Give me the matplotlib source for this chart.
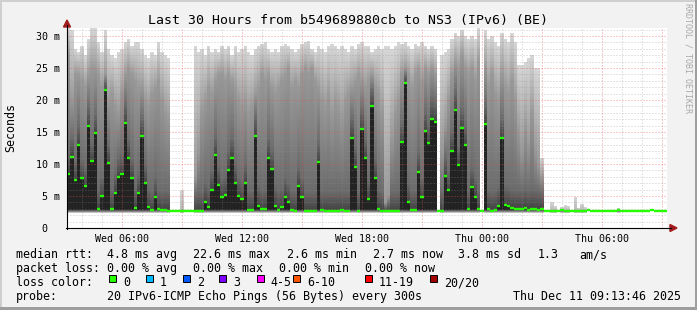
import numpy as np
import matplotlib
matplotlib.use("Agg")
import matplotlib.pyplot as plt
from matplotlib.colors import LinearSegmentedColormap
from matplotlib.patches import Rectangle, Polygon
from matplotlib.lines import Line2D

# ---------------- data ----------------
title = "Last 30 Hours from b549689880cb to NS3 (IPv6) (BE)"
t0_hours = 3.27          # hours after Wed 00:00 at left edge
span_hours = 30.0
step_hours = 1.0 / 6.0   # 10-minute columns

median_ms = [
    8.5, 11.1, 7.5, 13.0, 7.8, 6.5, 16.0, 10.4, 14.8, 3.0,
    5.0, 21.5, 10.1, 3.0, 5.5, 8.0, 8.5, 16.4, 10.9, 7.8,
    3.2, 5.4, 14.3, 7.0, 3.3, 2.8, 4.9, 3.0, 2.8, 2.8,
    2.7,
    2.6, 2.6, 2.6, 2.6, 2.6, 2.6, 2.7, 2.7, 2.7, 2.7, 4.1, 3.3, 6.0, 11.4,
    6.7, 4.9, 5.1, 9.1, 11.0, 7.0, 5.0, 4.5, 7.0, 2.8,
    2.8, 14.4, 3.5, 3.0, 3.0, 11.0, 9.2, 3.5, 2.8, 3.3,
    4.9, 4.1, 2.8, 2.7, 6.5, 4.9, 2.7, 2.7, 2.7, 2.7,
    10.3, 2.8, 2.7, 2.7, 2.7, 2.7, 2.7, 2.8, 2.7, 2.7,
    14.0, 9.6, 2.7, 15.4, 10.9,
    4.5, 19.1, 7.8, 3.0, 2.7, 2.6, 2.6, 2.6, 2.6, 2.7,
    13.4, 22.6, 4.0, 2.8, 2.8, 8.8, 4.9, 15.2, 13.3, 17.1,
    16.6, 2.7, 2.7, 8.2, 5.9, 12.0, 18.4, 9.8, 15.7, 13.0,
    2.9, 6.4, 4.9, 3.0, 2.7, 16.2, 2.9, 2.7, 2.8, 3.4,
    14.1, 3.6, 3.5, 3.1, 3.0,
    3.0, 2.9, 3.2, 2.8, 3.0, 2.9, 2.8, 3.0,
    2.7, 2.7, 2.6, 2.7, 2.7, 2.8, 2.7, 2.7, 2.6, 2.7,
    2.7, 2.7, 2.7, 2.8, 2.7, 2.7, 2.6, 2.7, 2.7, 2.7,
    2.7, 2.7, 2.8, 2.7, 2.7, 2.7, 2.6, 2.7, 2.7, 2.7,
    2.7, 2.7, 2.8, 2.7, 2.7, 2.7, 2.7,
]

upper_ms = [
    27, 20, 24, 24, 23, 22, 24, 25, 25, 24,
    22, 24, 20, 21, 19, 18, 21, 24, 25, 24,
    23, 22, 22, 20, 19, 21, 22, 23, 20, 18,
    17,
    2.6, 2.6, 2.6, 2.6, 2.6, 2.6, 2.7, 8, 12, 18, 20, 22, 21, 23,
    24, 24, 23, 24, 23, 22, 20, 19, 20, 18,
    19, 21, 22, 24, 23, 24, 22, 21, 22, 23,
    24, 25, 22, 23, 22, 24, 25, 24, 25, 23,
    22, 20, 19, 21, 18, 20, 19, 17, 20, 21,
    22, 23, 24, 23, 22,
    23, 24, 22, 21, 18, 4, 5, 14, 18, 20,
    24, 25, 24, 22, 24, 25, 23, 25, 24, 25,
    24, 2.7, 12, 16, 20, 24, 26, 25, 27, 25,
    24, 25, 23, 26, 2.7, 25, 22, 24, 21, 20,
    24, 22, 21, 23, 20,
    15, 12, 16, 13, 18, 12, 10, 8,
    2.7, 2.7, 2.7, 2.7, 2.7, 2.7, 2.7, 2.7, 2.7, 2.7,
    2.7, 2.7, 2.7, 2.7, 2.7, 2.7, 2.7, 2.7, 2.7, 2.7,
    2.7, 2.7, 2.7, 2.7, 2.7, 2.7, 2.7, 2.7, 2.7, 2.7,
    2.7, 2.7, 2.7, 2.7, 2.7, 2.7, 2.7,
]

max_ms = [
    31.2, 31.0, 28.0, 27.5, 28.5, 27.0, 29.5, 31.2, 31.2, 29.0,
    27.5, 31.0, 28.0, 27.0, 26.5, 27.5, 28.0, 29.0, 29.5, 28.5,
    29.0, 29.0, 28.0, 27.0, 26.5, 27.5, 27.0, 29.0, 27.5, 27.0,
    26.5,
    2.8, 2.8, 2.8, 6.0, 2.8, 2.8, 2.8, 28.5, 27.5, 28.0, 27.0, 28.5, 27.5, 28.0,
    27.5, 28.5, 28.0, 28.5, 27.0, 28.5, 27.5, 28.0, 28.5, 27.5,
    27.0, 28.0, 28.5, 28.8, 29.0, 28.0, 27.5, 28.0, 27.5, 28.5,
    28.8, 28.5, 28.0, 27.5, 28.0, 28.8, 29.0, 29.2, 28.0, 27.5,
    28.5, 28.0, 27.5, 28.5, 28.8, 28.5, 28.0, 28.5, 28.0, 27.5,
    28.5, 28.0, 28.8, 29.0, 28.5,
    28.5, 27.5, 28.0, 28.5, 28.0, 28.5, 28.5, 28.0, 28.5, 29.0,
    28.8, 29.0, 28.5, 28.0, 28.8, 28.5, 29.0, 28.5, 28.0, 28.5,
    28.0, 2.7, 27.0, 27.5, 28.0, 29.5, 30.5, 30.0, 31.0, 30.0,
    29.5, 30.0, 29.5, 31.2, 2.7, 31.0, 29.5, 30.0, 29.0, 28.5,
    30.5, 29.5, 29.0, 30.5, 29.0,
    25.5, 25.5, 26.0, 26.5, 27.0, 25.0, 25.0, 11.0,
    2.9, 2.9, 4.1, 3.5, 2.9, 3.3, 3.6, 3.4, 2.9, 4.9,
    3.2, 3.8, 3.3, 2.9, 2.9, 2.9, 2.9, 2.9, 2.9, 2.9,
    2.9, 2.9, 3.2, 2.9, 2.9, 2.9, 2.9, 2.9, 2.9, 2.9,
    2.9, 2.9, 2.9, 2.9, 2.9, 2.9, 2.9,
]
rtt_floor_ms = 2.3

x_tick_hours = [6, 12, 18, 24, 30]
x_tick_labels = ["Wed 06:00", "Wed 12:00", "Wed 18:00", "Thu 00:00", "Thu 06:00"]
y_ticks = [0, 5, 10, 15, 20, 25, 30]
y_tick_labels = ["0  ", "5 m", "10 m", "15 m", "20 m", "25 m", "30 m"]
y_max = 31.25

rtt_stats = ["4.8 ms avg", "22.6 ms max", "2.6 ms min", "2.7 ms now", "3.8 ms sd", "1.3", "am/s"]
loss_stats = ["0.00 % avg", "0.00 % max", "0.00 % min", "0.00 % now"]
loss_labels = ["0", "1", "2", "3", "4-5", "6-10", "11-19", "20/20"]
loss_colors = ["#26ff00", "#00b8ff", "#0059ff", "#7e00ff", "#ff00ff", "#ff5500", "#ff0000", "#a10000"]
probe_text = "20 IPv6-ICMP Echo Pings (56 Bytes) every 300s"
stamp_text = "Thu Dec 11 09:13:46 2025"

# ---------------- style ----------------
W, H, DPI = 697, 310, 100
BG = "#f2f2f2"
MONO = "DejaVu Sans Mono"
D_BELOW, D_MED, D_KNEE, D_UPR, D_TOP, D_LIGHT = 0.86, 0.74, 0.58, 0.40, 0.16, 0.28
KNEE_MS = 3.0

def fx(px):
    return px / W

def fy(py):
    return 1 - py / H

fig = plt.figure(figsize=(W / DPI, H / DPI), dpi=DPI, facecolor=BG)
ax = fig.add_axes([fx(67), fy(228), fx(667) - fx(67), fy(28) - fy(228)])
ax.set_facecolor("white")
ax.set_xlim(t0_hours, t0_hours + span_hours)
ax.set_ylim(0, y_max)
for s in ax.spines.values():
    s.set_visible(False)

# ---- smoke ----
n = len(median_ms)
xe = t0_hours + step_hours * np.arange(n + 1)
yedges = np.linspace(0, y_max, 501)
yc = 0.5 * (yedges[:-1] + yedges[1:])
dens = np.full((len(yc), n), np.nan)
for i, (m, u, t) in enumerate(zip(median_ms, upper_ms, max_ms)):
    if t - m < 0.3:
        continue
    col = np.full(len(yc), np.nan)
    f = (yc >= rtt_floor_ms) & (yc <= m)
    col[f] = np.interp(yc[f], [rtt_floor_ms, rtt_floor_ms + 0.6], [0.1, D_BELOW])
    if u > m + 0.3:
        k = min(m + KNEE_MS, m + 0.5 * (u - m))
        a = (yc > m) & (yc <= u)
        col[a] = np.interp(yc[a], [m, k, u], [D_MED, D_KNEE, D_UPR])
        b = (yc > u) & (yc <= t)
        col[b] = np.interp(yc[b], [u, t], [D_UPR, D_TOP])
    else:
        b = (yc > m) & (yc <= t)
        col[b] = np.interp(yc[b], [m, t], [D_LIGHT, D_TOP])
    dens[:, i] = col
smoke_cmap = LinearSegmentedColormap.from_list("smoke", ["#ffffff", "#000000"])
ax.pcolormesh(xe, yedges, np.ma.masked_invalid(dens), cmap=smoke_cmap, vmin=0, vmax=1,
              shading="flat", antialiased=False, edgecolors="none", linewidth=0, zorder=1)

# ---- grid ----
dot = (0, (1, 2))
for h in range(int(np.ceil(t0_hours)), int(np.floor(t0_hours + span_hours)) + 1):
    if h % 3 == 0:
        ax.axvline(h, color="#de5050", alpha=0.6, lw=0.72, ls=dot, zorder=2)
    else:
        ax.axvline(h, color="#8f8f8f", alpha=0.45, lw=0.72, ls=dot, zorder=2)
for v in range(1, int(y_max) + 1):
    if v % 5 == 0:
        ax.axhline(v, color="#de5050", alpha=0.6, lw=0.72, ls=dot, zorder=2)
    else:
        ax.axhline(v, color="#8f8f8f", alpha=0.45, lw=0.72, ls=dot, zorder=2)

# ---- median ----
ax.hlines(median_ms, xe[:-1], xe[1:], colors="#26ff00", lw=1.7, zorder=3)

# ---- ticks ----
ax.set_xticks(x_tick_hours, x_tick_labels)
ax.set_yticks(y_ticks, y_tick_labels)
ax.tick_params(axis="x", length=0, pad=4, labelsize=7.2)
ax.tick_params(axis="y", length=0, pad=5.2, labelsize=7.2)
for lab in ax.get_xticklabels() + ax.get_yticklabels():
    lab.set_fontfamily(MONO)

# ---- axis lines and arrows ----
fig.add_artist(Line2D([fx(66), fx(671)], [fy(228), fy(228)], color="black", lw=0.8))
fig.add_artist(Line2D([fx(67), fx(67)], [fy(228.5), fy(25)], color="black", lw=0.8))
arrow_c = "#a11b1b"
fig.add_artist(Polygon([(fx(670), fy(224.5)), (fx(670), fy(231.5)), (fx(677), fy(228))],
                       closed=True, color=arrow_c, transform=fig.transFigure))
fig.add_artist(Polygon([(fx(63.5), fy(27)), (fx(70.5), fy(27)), (fx(67), fy(20))],
                       closed=True, color=arrow_c, transform=fig.transFigure))

# ---- frame shading ----
fig.add_artist(Rectangle((0, fy(H)), fx(2), 1, color="#cfcfcf", transform=fig.transFigure, lw=0))
fig.add_artist(Rectangle((0, fy(2)), 1, fy(0) - fy(2), color="#cfcfcf", transform=fig.transFigure, lw=0))
fig.add_artist(Rectangle((fx(695), 0), fx(2), 1, color="#9e9e9e", transform=fig.transFigure, lw=0))
fig.add_artist(Rectangle((0, 0), 1, fy(307) - fy(310), color="#9e9e9e", transform=fig.transFigure, lw=0))

# ---- texts ----
fig.text(fx(348), fy(24), title, ha="center", va="baseline", fontsize=9.5, family=MONO)
fig.text(fx(11), fy(128), "Seconds", rotation=90, ha="center", va="center", fontsize=8.4, family=MONO)
fig.text(fx(688), fy(3), "RRDTOOL / TOBI OETIKER", rotation=270, ha="center", va="top",
         fontsize=6.0, family=MONO, color="#a8a8a8")

LF = dict(fontsize=8.4, family=MONO, va="baseline")
row1_x = [106.7, 193.3, 286.7, 372.7, 458.3, 538, 579]
fig.text(fx(16), fy(258.3), "median rtt:", **LF)
for x, s in zip(row1_x, rtt_stats):
    fig.text(fx(x), fy(258.3), s, **LF)
row2_x = [106.7, 193.3, 279.3, 365.3]
fig.text(fx(16), fy(272.3), "packet loss:", **LF)
for x, s in zip(row2_x, loss_stats):
    fig.text(fx(x), fy(272.3), s, **LF)
fig.text(fx(16), fy(286.3), "loss color:", **LF)
box_x = [109, 145.7, 182.7, 219, 256.7, 293.3, 365, 430]
for x, lab, c in zip(box_x, loss_labels, loss_colors):
    fig.add_artist(Rectangle((fx(x), fy(282)), fx(7), fy(275) - fy(282), facecolor=c,
                             edgecolor="black", lw=0.7, transform=fig.transFigure))
    fig.text(fx(x + 14), fy(286.3), lab, **LF)
fig.text(fx(16), fy(300.3), "probe:", **LF)
fig.text(fx(106.7), fy(300.3), probe_text, **LF)
fig.text(fx(513.3), fy(300.3), stamp_text, **LF)

fig.savefig("out.png", dpi=DPI, facecolor=BG)
